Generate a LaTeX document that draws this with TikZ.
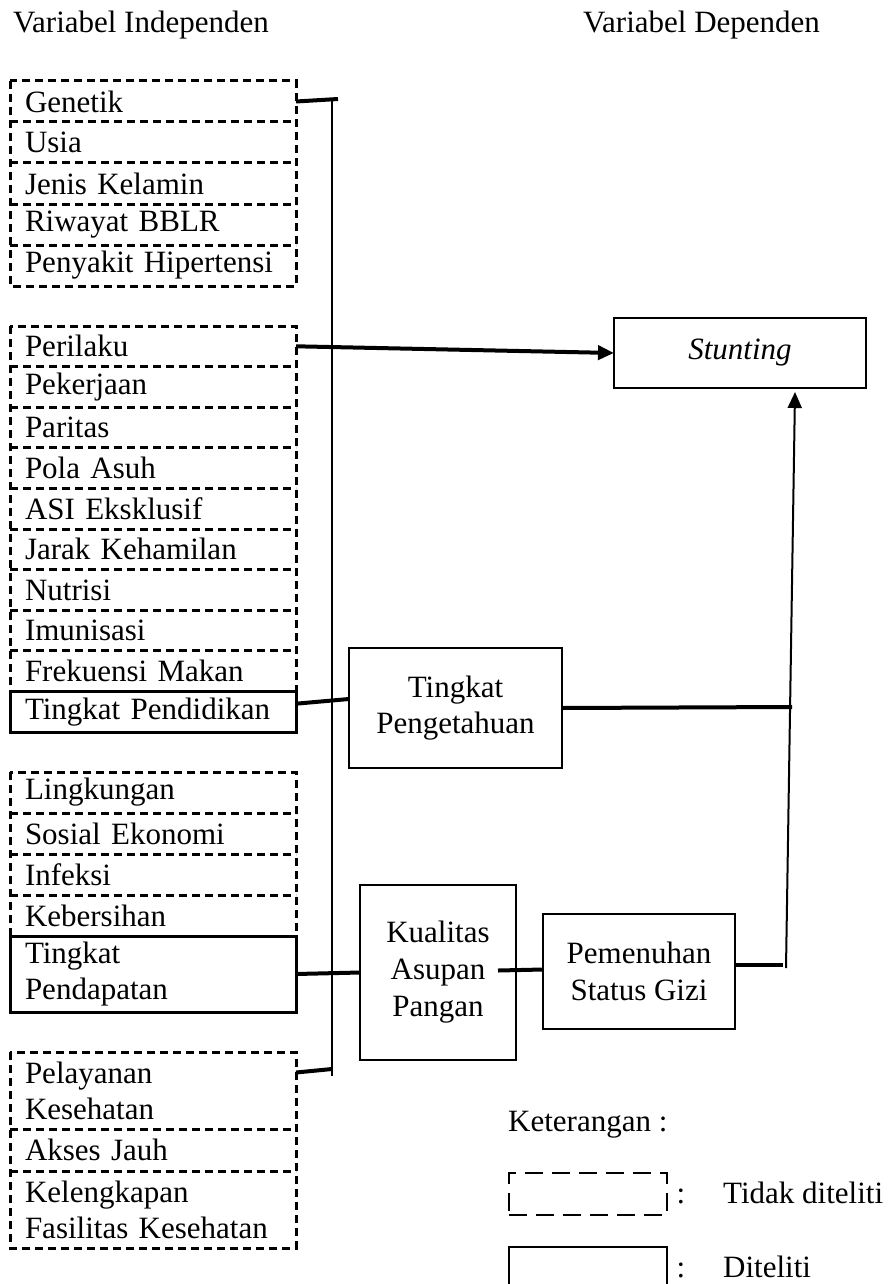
\documentclass[tikz,border=0pt]{standalone}
\usepackage{fontspec}
\setmainfont{Liberation Serif}
\usepackage{tikz}
\usetikzlibrary{arrows.meta,positioning}

\begin{document}
\begin{tikzpicture}[x=1pt,y=-1pt,node distance=0pt,>={Triangle[length=16pt,width=14pt]},font=\fontsize{31}{36}\selectfont]
		\tikzstyle{faktor}=[rectangle, outer sep=0pt, inner xsep=15pt, text width=256pt, minimum height=41pt, align=left]
		\tikzstyle{diteliti}=[faktor, draw=black, line width=3pt]
		\tikzstyle{putus}=[line width=3pt, dash pattern=on 8pt off 5pt]
		\tikzstyle{kotak}=[rectangle, draw=black, line width=2pt, align=center, outer sep=0pt]
		\tikzstyle{teks}=[inner sep=0pt]
		\tikzstyle{hubung}=[line width=4pt]
		\tikzstyle{garis}=[line width=2pt]

		\useasboundingbox (0,0) rectangle (894,1284);

		\node [teks, anchor=base west] (judulA) at (13,33) {Variabel Independen};
		\node [teks, anchor=base west] (judulB) at (583,33) {Variabel Dependen};

		% faktor genetik
		\node [faktor, anchor=north west] (genetik) at (10,81) {Genetik};
		\node [faktor, below=of genetik] (usia) {Usia};
		\node [faktor, below=of usia] (kelamin) {Jenis Kelamin};
		\node [faktor, below=of kelamin] (bblr) {Riwayat BBLR};
		\node [faktor, below=of bblr] (hipertensi) {Penyakit Hipertensi};

		% faktor perilaku
		\node [faktor, anchor=north west, minimum height=40.6pt] (perilaku) at (10,326) {Perilaku};
		\node [faktor, below=of perilaku, minimum height=40.6pt] (pekerjaan) {Pekerjaan};
		\node [faktor, below=of pekerjaan, minimum height=40.6pt] (paritas) {Paritas};
		\node [faktor, below=of paritas, minimum height=40.6pt] (polaasuh) {Pola Asuh};
		\node [faktor, below=of polaasuh, minimum height=40.6pt] (asi) {ASI Eksklusif};
		\node [faktor, below=of asi, minimum height=40.6pt] (jarak) {Jarak Kehamilan};
		\node [faktor, below=of jarak, minimum height=40.6pt] (nutrisi) {Nutrisi};
		\node [faktor, below=of nutrisi, minimum height=40.6pt] (imunisasi) {Imunisasi};
		\node [faktor, below=of imunisasi, minimum height=40.6pt] (frekuensi) {Frekuensi Makan};
		\node [diteliti, below=of frekuensi, minimum height=40.6pt] (pendidikan) {Tingkat Pendidikan};

		% faktor lingkungan
		\node [faktor, anchor=north west] (lingkungan) at (10,772) {Lingkungan};
		\node [faktor, below=of lingkungan] (sosial) {Sosial Ekonomi};
		\node [faktor, below=of sosial] (infeksi) {Infeksi};
		\node [faktor, below=of infeksi] (kebersihan) {Kebersihan};
		\node [diteliti, below=of kebersihan, minimum height=76pt] (pendapatan) {Tingkat\\Pendapatan};

		% faktor pelayanan
		\node [faktor, anchor=north west, minimum height=77pt] (pelayanan) at (10,1052) {Pelayanan\\Kesehatan};
		\node [faktor, below=of pelayanan, minimum height=42pt] (akses) {Akses Jauh};
		\node [faktor, below=of akses, minimum height=77pt] (kelengkapan) {Kelengkapan\\Fasilitas Kesehatan};

		\foreach \a/\b in {genetik/hipertensi,perilaku/frekuensi,lingkungan/kebersihan,pelayanan/kelengkapan}
			\draw [putus] (\a.north west) rectangle (\b.south east);
		\foreach \a in {genetik,usia,kelamin,bblr,perilaku,pekerjaan,paritas,polaasuh,asi,jarak,nutrisi,imunisasi,lingkungan,sosial,infeksi,pelayanan,akses}
			\draw [putus] (\a.south west) -- (\a.south east);

		% variabel antara dan dependen
		\node [kotak, minimum width=252pt, minimum height=70pt, font=\fontsize{31}{36}\selectfont\itshape] (stunting) at (740,353) {Stunting};
		\node [kotak, minimum width=213pt, minimum height=120pt] (pengetahuan) at (455.5,708) {Tingkat\\Pengetahuan};
		\node [kotak, minimum width=156pt, minimum height=175pt, font=\fontsize{31}{37}\selectfont] (kualitas) at (438,972.5) {Kualitas\\Asupan\\Pangan};
		\node [kotak, minimum width=192pt, minimum height=115pt, font=\fontsize{31}{37}\selectfont] (gizi) at (639,971.5) {Pemenuhan\\Status Gizi};

		% garis penghubung
		\coordinate (busatas) at (332,100);
		\coordinate (busbawah) at (332,1076);
		\coordinate (ujunggenetik) at (338,99);
		\coordinate (ujungpelayanan) at (332,1069);
		\coordinate (titikpanah) at (792,707);
		\coordinate (ujunggizi) at (783,964.5);
		\coordinate (pangkalpanah) at (786,968);

		\draw [garis] (busatas) -- (busbawah);
		\draw [hubung] (genetik.east) -- (ujunggenetik);
		\draw [hubung] ([yshift=18pt]pelayanan.east) -- (ujungpelayanan);
		\draw [hubung,->] (perilaku.east) -- (stunting.west);
		\draw [hubung] ([yshift=8pt]pendidikan.east) -- ([yshift=9pt]pengetahuan.west);
		\draw [hubung] (pengetahuan.east) -- (titikpanah);
		\draw [hubung] (pendapatan.east) -- (kualitas.west);
		\draw [hubung] ([xshift=-18pt,yshift=2pt]kualitas.east) -- ([yshift=2pt]gizi.west);
		\draw [hubung] ([yshift=7pt]gizi.east) -- (ujunggizi);
		\draw [garis,->] (pangkalpanah) -- ([xshift=55pt,yshift=-4pt]stunting.south);

		% keterangan
		\node [teks, anchor=base west] (keterangan) at (508,1131) {Keterangan :};
		\node [rectangle, draw=black, line width=2.5pt, dash pattern=on 18pt off 9pt, minimum width=158pt, minimum height=42pt, outer sep=0pt] (legputus) at (588,1194) {};
		\node [teks, anchor=base] (titikduaA) at (681,1203) {:};
		\node [teks, anchor=base west] (tidakditeliti) at (723,1203) {Tidak diteliti};
		\node [rectangle, draw=black, line width=2.5pt, minimum width=158pt, minimum height=42pt, outer sep=0pt] (legpenuh) at (588,1268) {};
		\node [teks, anchor=base] (titikduaB) at (681,1277) {:};
		\node [teks, anchor=base west] (ditelitiket) at (723,1277) {Diteliti};
	\end{tikzpicture}
\end{document}
